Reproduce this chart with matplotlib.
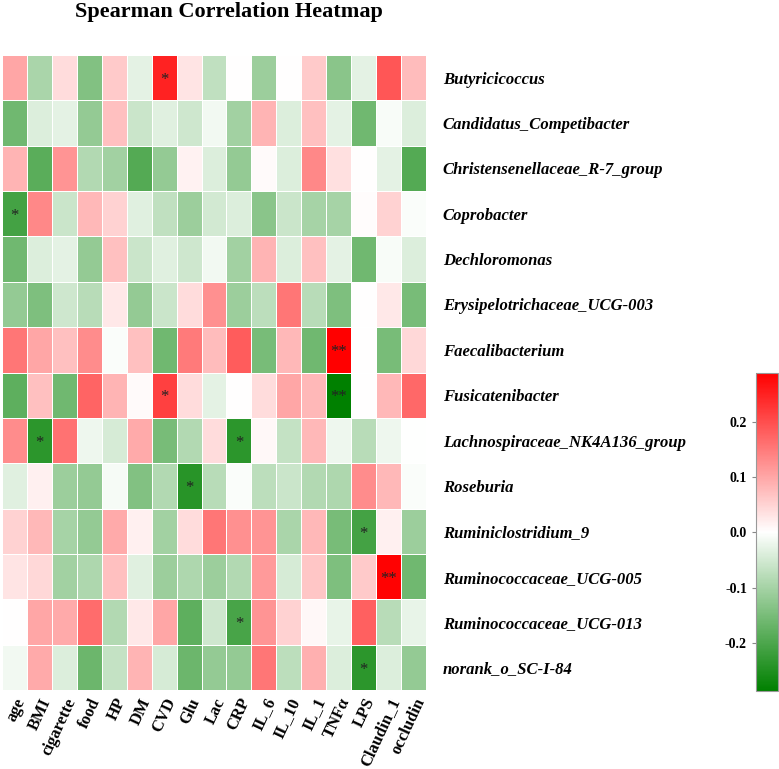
import numpy as np
import matplotlib
matplotlib.use("Agg")
import matplotlib.pyplot as plt
from matplotlib.colors import LinearSegmentedColormap, TwoSlopeNorm

columns = ["age", "BMI", "cigarette", "food", "HP", "DM", "CVD", "Glu", "Lac", "CRP",
           "IL_6", "IL_10", "IL_1", "TNFα", "LPS", "Claudin_1", "occludin"]
rows = ["Butyricicoccus", "Candidatus_Competibacter", "Christensenellaceae_R-7_group",
        "Coprobacter", "Dechloromonas", "Erysipelotrichaceae_UCG-003", "Faecalibacterium",
        "Fusicatenibacter", "Lachnospiraceae_NK4A136_group", "Roseburia",
        "Ruminiclostridium_9", "Ruminococcaceae_UCG-005", "Ruminococcaceae_UCG-013",
        "norank_o_SC-I-84"]

r_butyricicoccus = [0.10, -0.095, 0.04, -0.14, 0.06, -0.03, 0.25, 0.03, -0.07, 0.002, -0.11, 0.0, 0.06, -0.13, -0.03, 0.19, 0.075]
r_candidatus = [-0.16, -0.04, -0.03, -0.12, 0.07, -0.06, -0.035, -0.055, -0.015, -0.105, 0.085, -0.04, 0.07, -0.03, -0.16, -0.008, -0.04]
r_christensenellaceae = [0.085, -0.185, 0.12, -0.085, -0.105, -0.19, -0.12, 0.015, -0.04, -0.12, 0.005, -0.04, 0.135, 0.035, 0.002, -0.03, -0.19]
r_coprobacter = [-0.21, 0.135, -0.06, 0.08, 0.05, -0.035, -0.07, -0.11, -0.05, -0.04, -0.13, -0.06, -0.10, -0.10, 0.003, 0.05, -0.005]
r_dechloromonas = [-0.16, -0.04, -0.03, -0.12, 0.07, -0.06, -0.035, -0.055, -0.015, -0.105, 0.085, -0.04, 0.07, -0.03, -0.16, -0.008, -0.04]
r_erysipelotrichaceae = [-0.12, -0.145, -0.055, -0.08, 0.025, -0.12, -0.06, 0.04, 0.125, -0.11, -0.075, 0.155, -0.08, -0.145, 0.0, 0.025, -0.15]
r_faecalibacterium = [0.155, 0.10, 0.07, 0.13, -0.005, 0.07, -0.16, 0.15, 0.075, 0.185, -0.15, 0.08, -0.16, 0.289, 0.0, -0.15, 0.045]
r_fusicatenibacter = [-0.18, 0.07, -0.16, 0.175, 0.085, 0.005, 0.215, 0.04, -0.03, 0.0, 0.04, 0.10, 0.08, -0.286, 0.0, 0.08, 0.17]
r_lachnospiraceae = [0.13, -0.235, 0.16, -0.02, -0.045, 0.095, -0.15, -0.085, 0.04, -0.235, 0.008, -0.065, 0.08, -0.02, -0.08, -0.02, -0.002]
r_roseburia = [-0.035, 0.017, -0.11, -0.12, -0.01, -0.14, -0.085, -0.24, -0.08, -0.005, -0.075, -0.06, -0.085, -0.09, 0.13, 0.08, -0.005]
r_ruminiclostridium = [0.05, 0.08, -0.10, -0.12, 0.095, 0.017, -0.105, 0.04, 0.155, 0.125, 0.12, -0.095, 0.08, -0.15, -0.21, 0.017, -0.11]
r_rumino005 = [0.03, 0.045, -0.105, -0.09, 0.07, -0.035, -0.11, -0.09, -0.11, -0.085, 0.115, -0.045, 0.065, -0.145, 0.06, 0.285, -0.16]
r_rumino013 = [0.0, 0.10, 0.095, 0.165, -0.085, 0.025, 0.10, -0.18, -0.055, -0.205, 0.12, 0.05, 0.008, -0.025, 0.18, -0.08, -0.025]
r_norank = [-0.015, 0.095, -0.04, -0.165, -0.065, 0.085, -0.045, -0.165, -0.12, -0.12, 0.155, -0.075, 0.09, -0.04, -0.235, -0.04, -0.12]

# significance marks: (row, column, label)
sig_rows = [0, 3, 6, 7, 7, 8, 8, 9, 10, 11, 12, 13]
sig_cols = [6, 0, 13, 6, 13, 1, 9, 7, 14, 15, 9, 14]
sig_text = ["*", "*", "**", "*", "**", "*", "*", "*", "*", "**", "*", "*"]

data = np.array([r_butyricicoccus, r_candidatus, r_christensenellaceae, r_coprobacter,
                 r_dechloromonas, r_erysipelotrichaceae, r_faecalibacterium,
                 r_fusicatenibacter, r_lachnospiraceae, r_roseburia, r_ruminiclostridium,
                 r_rumino005, r_rumino013, r_norank])

plt.rcParams['font.family'] = ['Liberation Serif', 'DejaVu Serif']
plt.rcParams['axes.unicode_minus'] = False

cmap = LinearSegmentedColormap.from_list("gwr", ["#008000", "#ffffff", "#ff0000"])
norm = TwoSlopeNorm(vmin=data.min(), vcenter=0.0, vmax=data.max())

fig = plt.figure(figsize=(7.79, 7.69), dpi=100)
ax = fig.add_axes([2/779, 1-690/769, 424/779, 635/769])
nr, nc = data.shape
mesh = ax.pcolormesh(np.arange(nc+1), np.arange(nr+1), data, cmap=cmap, norm=norm,
                     edgecolors="white", linewidth=0.7)
ax.set_xlim(0, nc)
ax.set_ylim(nr, 0)
for s in ax.spines.values():
    s.set_visible(False)

ax.set_xticks(np.arange(nc) + 0.5)
ax.set_xticklabels(columns, rotation=65, ha="right", va="top", rotation_mode="anchor",
                   fontsize=12, fontweight="bold")
ax.set_yticks(np.arange(nr) + 0.5)
ax.set_yticklabels(rows, fontsize=12, fontweight="bold", fontstyle="italic")
ax.yaxis.tick_right()
ax.tick_params(axis="both", length=0)
ax.tick_params(axis="y", pad=12)
ax.tick_params(axis="x", pad=4)

for r, c, t in zip(sig_rows, sig_cols, sig_text):
    ax.text(c + 0.5, r + 0.55, t, ha="center", va="center", fontsize=12, color="#222222")

fig.text(229/779, 1-12/769, "Spearman Correlation Heatmap", ha="center", va="center",
         fontsize=16, fontweight="bold")

cax = fig.add_axes([756/779, 1-691/769, 22/779, 318/769])
cb = fig.colorbar(mesh, cax=cax)
cb.set_ticks([-0.2, -0.1, 0.0, 0.1, 0.2])
cb.ax.yaxis.set_ticks_position("left")
cb.ax.tick_params(labelsize=10, length=3, color="#888888")
for lab in cb.ax.get_yticklabels():
    lab.set_fontweight("bold")
cb.outline.set_edgecolor("#999999")
cb.outline.set_linewidth(0.8)

fig.savefig("out.png", dpi=100)
